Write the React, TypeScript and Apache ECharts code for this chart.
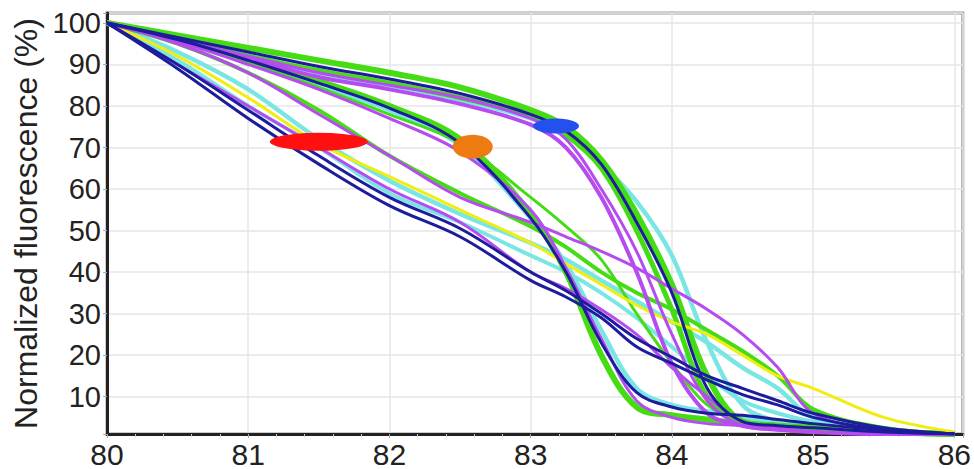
import React, { useEffect, useRef } from "react";
import * as echarts from "echarts";

// Temperatures (°C) at which each curve was read
const temps = [80, 80.5, 81, 81.5, 82, 82.5, 83, 83.25, 83.5, 83.75, 84, 84.25, 84.5, 84.75, 85, 85.5, 86];

// Late-melting group (through the blue mark)
const topGreen = [100, 97, 94, 91, 88, 84.5, 79, 75, 67, 54, 37, 15, 4, 3, 2, 1.5, 1];
const topGreen2 = [100, 96, 92, 88.5, 85.5, 82, 77.5, 73, 65, 50, 31, 10, 4, 3, 2, 1.5, 1];
const topNavy = [100, 96.5, 93, 89.5, 86.5, 83, 78, 74, 66, 52, 35, 12, 4, 3, 2.5, 1.5, 1];
const topCyan = [100, 96.5, 92.5, 88, 85, 81.5, 77, 73, 66, 57, 44, 23, 8, 4, 2.5, 1.5, 1];
const topPurple = [100, 96, 92, 88, 85, 82, 77, 72, 60, 45, 25, 9, 3, 2, 1.5, 1, 1];
const topPurple2 = [100, 96, 91.5, 87, 84, 80.5, 75.5, 70, 58, 40, 18, 6, 3, 2, 1.5, 1, 1];

// Middle group (through the orange mark)
const midGreen = [100, 96, 91.5, 86, 80, 72, 54, 40, 20, 7.5, 5.5, 4.5, 3.5, 3, 2.5, 1.5, 1];
const midGreen2 = [100, 95.5, 90.5, 84.5, 78, 71, 58, 51, 43, 30, 18, 8, 4, 3, 2, 1.5, 1];
const midNavy = [100, 96, 91, 85.5, 79.5, 71, 53, 40, 23, 11, 7.5, 6, 5.5, 4.5, 3.5, 2, 1];
const midCyan = [100, 96, 91, 85, 79, 70.5, 53, 42, 26, 12, 8, 6.5, 5, 4, 3, 2, 1];
const midPurple = [100, 95.5, 90, 84, 77, 69, 55, 41, 24, 9, 5, 3.5, 3, 2, 1.5, 1, 1];

// Early-melting group (through the red mark)
const lowNavy1 = [100, 89, 77, 66, 56, 48.5, 38, 34, 29, 22, 18, 14, 10.5, 8, 5, 2, 1];
const lowNavy2 = [100, 90, 79, 68, 58, 50.5, 40, 35.5, 30, 24, 19.5, 15, 12, 9, 6, 2.5, 1];
const lowCyan1 = [100, 93, 84, 72, 62, 54, 47, 43, 38, 33, 28, 23, 17, 12, 5, 2, 1];
const lowCyan2 = [100, 91, 80, 70, 59, 52, 44, 40, 35, 29, 22, 15, 9, 6, 4, 2, 1];
const lowYellow = [100, 92, 82, 71, 63, 55, 47, 42, 37, 32, 28, 25, 20, 15, 12, 5, 1.5];
const lowGreen = [100, 95, 88, 79, 68, 59, 51, 46, 40, 35, 31, 26, 21, 15, 7, 2.5, 1];
const lowPurple1 = [100, 95, 88, 78, 68, 58, 52, 48.5, 45, 41, 36, 31, 25, 17, 6, 2, 1];
const lowPurple2 = [100, 90, 80, 70, 60, 52, 40, 36, 31, 25, 17, 10, 4, 2.5, 1.5, 1, 1];

// Marks: [temperature, fluorescence]
const redMark = [81.5, 71.4];
const orangeMark = [82.59, 70.2];
const blueMark = [83.18, 75.2];

const GREEN = "#46dc14";
const NAVY = "#1c1c9c";
const CYAN = "#7ae6e4";
const PURPLE = "#b64cf0";
const YELLOW = "#f0ee10";

export default function App() {
  const ref = useRef<HTMLDivElement>(null);
  useEffect(() => {
    if (!ref.current) return;
    const chart = echarts.init(ref.current, undefined, { renderer: "svg" });
    const line = (name: string, vals: number[], color: string, width: number) => ({
      name,
      type: "line",
      data: temps.map((t, i) => [t, vals[i]]),
      smooth: 0.35,
      showSymbol: false,
      symbol: "none",
      lineStyle: { color, width },
      itemStyle: { color },
      z: 2,
    });
    const mark = (name: string, pt: number[], color: string, size: number[]) => ({
      name,
      type: "scatter",
      data: [pt],
      symbol: "circle",
      symbolSize: size,
      itemStyle: { color, opacity: 1 },
      z: 5,
    });
    const font = "'Liberation Sans', Arial, sans-serif";
    chart.setOption({
      animation: false,
      backgroundColor: "#ffffff",
      grid: {
        left: 107,
        right: 4,
        top: 13,
        bottom: 35,
        show: true,
        borderColor: "#9a9a9a",
        borderWidth: 3,
        backgroundColor: "transparent",
      },
      xAxis: {
        type: "value",
        min: 80,
        max: 86.06,
        interval: 1,
        axisLine: { show: true, lineStyle: { color: "#222", width: 3 } },
        axisTick: { show: true, length: 4, lineStyle: { color: "#aaa" } },
        minorTick: { show: true, splitNumber: 5, length: 3, lineStyle: { color: "#ccc" } },
        splitLine: { show: true, lineStyle: { color: "#e6e6e6", width: 1.5 } },
        axisLabel: {
          fontFamily: font,
          fontSize: 30,
          color: "#222",
          margin: 5,
          formatter: (v: number) => (Math.abs(v - Math.round(v)) < 1e-6 ? String(Math.round(v)) : ""),
        },
      },
      yAxis: {
        type: "value",
        min: 1,
        max: 102.4,
        splitNumber: 10,
        name: "Normalized fluorescence (%)",
        nameLocation: "middle",
        nameGap: 64,
        nameTextStyle: { fontFamily: font, fontSize: 32, color: "#222" },
        axisLine: { show: true, lineStyle: { color: "#222", width: 3 } },
        axisTick: { show: true, length: 4, lineStyle: { color: "#aaa" } },
        splitLine: { show: true, lineStyle: { color: "#e6e6e6", width: 1.5 } },
        axisLabel: {
          fontFamily: font,
          fontSize: 29,
          color: "#222",
          margin: 6,
          formatter: (v: number) => (v % 10 === 0 && v >= 10 && v <= 100 ? String(v) : ""),
        },
      },
      series: [
        line("low cyan 1", lowCyan1, CYAN, 4.5),
        line("low cyan 2", lowCyan2, CYAN, 4),
        line("mid cyan", midCyan, CYAN, 4.5),
        line("top cyan", topCyan, CYAN, 4.5),
        line("low green", lowGreen, GREEN, 4),
        line("mid green 2", midGreen2, GREEN, 3),
        line("mid green", midGreen, GREEN, 6),
        line("top green 2", topGreen2, GREEN, 5),
        line("top green", topGreen, GREEN, 6),
        line("low yellow", lowYellow, YELLOW, 3),
        line("low purple 1", lowPurple1, PURPLE, 3),
        line("low purple 2", lowPurple2, PURPLE, 3),
        line("mid purple", midPurple, PURPLE, 3),
        line("top purple", topPurple, PURPLE, 3),
        line("top purple 2", topPurple2, PURPLE, 4),
        line("low navy 1", lowNavy1, NAVY, 3),
        line("low navy 2", lowNavy2, NAVY, 3),
        line("mid navy", midNavy, NAVY, 3),
        line("top navy", topNavy, NAVY, 3),
        mark("red", redMark, "#ff1010", [98, 18]),
        mark("orange", orangeMark, "#ee7a12", [40, 24]),
        mark("blue", blueMark, "#2450ee", [46, 15]),
      ],
    });
    return () => chart.dispose();
  }, []);
  return (
    <div
      ref={ref}
      style={{ position: "fixed", left: 0, top: 0, width: 974, height: 469, background: "#fff" }}
    />
  );
}
